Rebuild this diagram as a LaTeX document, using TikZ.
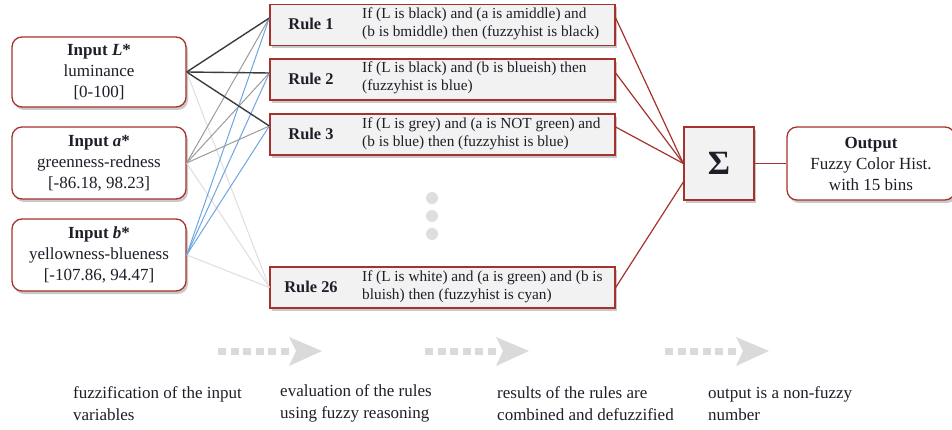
\documentclass[tikz,border=0pt]{standalone}
\usepackage{fontspec}
\setmainfont{Liberation Serif}
\usetikzlibrary{shadows}

\definecolor{boxred}{RGB}{165,50,45}
\definecolor{rulefill}{RGB}{242,242,242}
\definecolor{wiredark}{RGB}{60,60,60}
\definecolor{wiremid}{RGB}{155,155,155}
\definecolor{wireblue}{RGB}{110,165,225}
\definecolor{wirelight}{RGB}{222,222,222}
\definecolor{stepgrey}{RGB}{218,218,218}
\definecolor{inktext}{RGB}{30,30,40}

\tikzset{
  boxshadow/.style={drop shadow={shadow xshift=2pt, shadow yshift=-3pt, opacity=0.3, fill=black!70}},
  inbox/.style={draw=boxred, line width=1.3pt, rounded corners=10pt, fill=white, boxshadow,
    minimum width=174pt, minimum height=72pt, align=center, text=inktext,
    font=\fontsize{17}{21}\selectfont, inner sep=0pt},
  rulebox/.style={draw=boxred, line width=1.3pt, fill=rulefill, boxshadow,
    minimum width=345pt, minimum height=41pt, inner sep=0pt},
  rulename/.style={font=\fontsize{16.4}{18}\selectfont\bfseries, text=inktext, inner sep=0pt},
  ruletext/.style={anchor=west, align=left, font=\fontsize{15.3}{18}\selectfont, text=inktext, inner sep=0pt},
  redwire/.style={draw=boxred, line width=1.2pt},
  steptext/.style={anchor=west, align=left, font=\fontsize{17}{22}\selectfont, text=inktext, inner sep=0pt},
}

\begin{document}
\begin{tikzpicture}[x=1pt, y=-1pt]
\useasboundingbox (0,0) rectangle (952,430);

% input variables
\node[inbox, minimum height=70pt] (inL) at (99,72)
  {\textbf{Input \textit{L}*}\\luminance\\{[0-100]}};
\node[inbox] (inA) at (99,163)
  {\textbf{Input \textit{a}*}\\greenness-redness\\{[-86.18, 98.23]}};
\node[inbox] (inB) at (99,255)
  {\textbf{Input \textit{b}*}\\yellowness-blueness\\{[-107.86, 94.47]}};

% rule boxes
\node[rulebox] (r1) at (442.5,25) {};
\node[rulebox] (r2) at (442.5,79.5) {};
\node[rulebox] (r3) at (442.5,134.5) {};
\node[rulebox] (r26) at (442.5,287.5) {};

\node[rulename] (r1n) at (311,24) {Rule 1};
\node[rulename] (r2n) at (311,79) {Rule 2};
\node[rulename] (r3n) at (311,134) {Rule 3};
\node[rulename] (r26n) at (311,287) {Rule 26};

\node[ruletext] (r1t) at (362,24) {If (L is black) and (a is amiddle) and\\(b is bmiddle) then (fuzzyhist is black)};
\node[ruletext] (r2t) at (362,78) {If (L is black) and (b is blueish) then\\(fuzzyhist is blue)};
\node[ruletext] (r3t) at (362,133.5) {If (L is grey) and (a is NOT green) and\\(b is blue) then (fuzzyhist is blue)};
\node[ruletext] (r26t) at (362,287) {If (L is white) and (a is green) and (b is\\bluish) then (fuzzyhist is cyan)};

% omitted rules
\foreach \yy/\nm in {198/d1,216/d2,234/d3}
  \fill[wirelight] (432,\yy) circle (6pt) coordinate (\nm);

% aggregation and output
\node[draw=boxred, line width=1.3pt, fill=rulefill, boxshadow, minimum width=70pt,
  minimum height=73pt, inner sep=0pt, font=\fontsize{34}{36}\selectfont\bfseries, text=inktext]
  (sig) at (719,163.5) {Σ};
\node[inbox, minimum width=168pt, minimum height=73pt] (out) at (871,163.5)
  {\textbf{Output}\\Fuzzy Color Hist.\\with 15 bins};

% wires from the inputs to the rules
\begin{scope}[line width=1pt]
\draw[wirelight] (inL.east) -- (r26.west);
\draw[wirelight] (inA.east) -- (r26.west);
\draw[wirelight] (inB.east) -- (r26.west);
\foreach \r/\s in {r1/7pt,r2/6.5pt,r3/8.5pt}{
  \draw[wiremid] (inA.east) -- ([yshift=\s]\r.west);
  \draw[wireblue] (inB.east) -- ([yshift=\s]\r.west);
  \draw[wiredark, line width=1.4pt] (inL.east) -- ([yshift=\s]\r.west);
}
\end{scope}

% wires from the rules to the sum
\foreach \r/\s in {r1/7pt,r2/6.5pt,r3/7.5pt}
  \draw[redwire] ([yshift=\s]\r.east) -- (sig.west);
\draw[redwire] (r26.east) -- ([yshift=-18.5pt]sig.west);
\draw[redwire] (sig.east) -- (out.west);

% process steps along the bottom
\foreach \x/\nm in {218/s1,425/s2,665/s3}{
  \foreach \i in {0,...,5}
    \fill[stepgrey] (\x+12.5*\i,348) rectangle ++(8,6.5);
  \fill[stepgrey] (\x+71,337) -- (\x+104,351) -- (\x+71,366) -- (\x+78,351) -- cycle;
  \coordinate (\nm) at (\x+104,351);
}

\node[steptext] (t1) at (73,403.5) {fuzzification of the input\\variables};
\node[steptext] (t2) at (280,403.5) {evaluation of the rules\\using fuzzy reasoning};
\node[steptext] (t3) at (497,403.5) {results of the rules are\\combined and defuzzified};
\node[steptext] (t4) at (708,403.5) {output is a non-fuzzy\\number};
\end{tikzpicture}
\end{document}
